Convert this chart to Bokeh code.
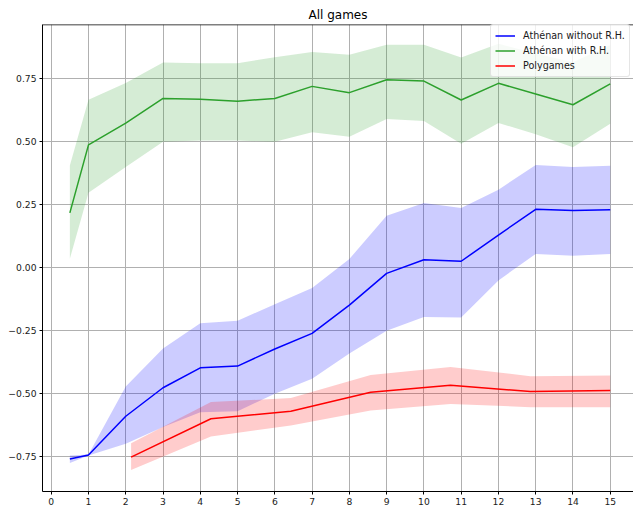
from bokeh.plotting import figure
from bokeh.models import Range1d, FixedTicker, Legend, LegendItem, Span
from bokeh.embed import file_html
from bokeh.resources import INLINE

# ---- data ----
x_steps = [0.5, 1, 2, 3, 4, 5, 6, 7, 8, 9, 10, 11, 12, 13, 14, 15]

blue_mean = [-0.759, -0.743, -0.589, -0.476, -0.397, -0.390, -0.322, -0.260,
             -0.148, -0.022, 0.032, 0.026, 0.130, 0.232, 0.227, 0.230]
blue_low = [-0.775, -0.745, -0.698, -0.632, -0.573, -0.569, -0.500, -0.440,
            -0.340, -0.250, -0.195, -0.197, -0.050, 0.055, 0.048, 0.055]
blue_high = [-0.745, -0.741, -0.471, -0.320, -0.220, -0.210, -0.145, -0.080,
             0.035, 0.207, 0.257, 0.237, 0.310, 0.408, 0.400, 0.405]

green_mean = [0.218, 0.488, 0.574, 0.672, 0.669, 0.661, 0.672, 0.720,
              0.695, 0.746, 0.741, 0.666, 0.732, 0.690, 0.647, 0.730]
green_low = [0.036, 0.298, 0.400, 0.500, 0.505, 0.505, 0.500, 0.538,
             0.520, 0.590, 0.583, 0.492, 0.575, 0.530, 0.478, 0.572]
green_high = [0.406, 0.667, 0.733, 0.815, 0.812, 0.812, 0.836, 0.856,
              0.845, 0.885, 0.885, 0.835, 0.889, 0.850, 0.816, 0.884]

red_x = [2.143, 4.286, 6.429, 8.571, 10.714, 12.857, 15.0]
red_mean = [-0.751, -0.599, -0.569, -0.494, -0.466, -0.491, -0.487]
red_low = [-0.802, -0.669, -0.626, -0.566, -0.540, -0.553, -0.553]
red_high = [-0.696, -0.533, -0.517, -0.425, -0.394, -0.430, -0.427]

x_ticks = list(range(0, 16))
y_ticks = [-0.75, -0.5, -0.25, 0.0, 0.25, 0.5, 0.75]
y_tick_labels = ["\u22120.75", "\u22120.50", "\u22120.25", "0.00", "0.25", "0.50", "0.75"]

series_names = ["Ath\u00e9nan without R.H.", "Ath\u00e9nan with R.H.", "Polygames"]
title_text = "All games"

FONT = "DejaVu Sans"
C_BLUE, C_GREEN, C_RED = "#0000ff", "#2ca02c", "#ff0000"

Y0, Y1 = -0.8877, 0.9655
p = figure(width=633, height=508,
           x_range=Range1d(-0.234, 15.624), y_range=Range1d(Y0, Y1),
           output_backend="svg", toolbar_location=None,
           min_border_left=42, min_border_top=24, min_border_bottom=17,
           min_border_right=0, title=title_text)
p.outline_line_color = None
p.background_fill_color = "white"

p.title.text_font = FONT
p.title.text_font_size = "12px"
p.title.text_font_style = "normal"
p.title.text_color = "black"
p.title.align = "center"
p.title.offset = 2
p.title.standoff = 6
p.title.text_line_height = 1.0

for ax in (p.xaxis[0], p.yaxis[0]):
    ax.axis_line_color = "black"
    ax.axis_line_width = 1
    ax.major_tick_line_color = "black"
    ax.major_tick_in = 0
    ax.major_tick_out = 3
    ax.minor_tick_line_color = None
    ax.major_label_text_font = FONT
    ax.major_label_text_font_size = "9.2px"
    ax.major_label_text_color = "#1a1a1a"
    ax.major_label_standoff = 3

p.xaxis.ticker = FixedTicker(ticks=x_ticks)
p.yaxis.ticker = FixedTicker(ticks=y_ticks)
p.yaxis.major_label_overrides = {t: l for t, l in zip(y_ticks, y_tick_labels)}

p.grid.grid_line_color = "#b0b0b0"
p.grid.grid_line_width = 1
p.xgrid.ticker = FixedTicker(ticks=x_ticks)
p.ygrid.ticker = FixedTicker(ticks=y_ticks)

# top spine
p.add_layout(Span(location=Y1, dimension="width", line_color="black", line_width=1.5))

# bands and lines
p.varea(x=x_steps, y1=blue_low, y2=blue_high, fill_color=C_BLUE, fill_alpha=0.2)
r_blue = p.line(x_steps, blue_mean, line_color=C_BLUE, line_width=1.5)
p.varea(x=x_steps, y1=green_low, y2=green_high, fill_color=C_GREEN, fill_alpha=0.2)
r_green = p.line(x_steps, green_mean, line_color=C_GREEN, line_width=1.5)
p.varea(x=red_x, y1=red_low, y2=red_high, fill_color=C_RED, fill_alpha=0.2)
r_red = p.line(red_x, red_mean, line_color=C_RED, line_width=1.5)

legend = Legend(items=[LegendItem(label=series_names[0], renderers=[r_blue]),
                       LegendItem(label=series_names[1], renderers=[r_green]),
                       LegendItem(label=series_names[2], renderers=[r_red])],
                location=(448, 414))
legend.label_text_font = FONT
legend.label_text_font_size = "9.6px"
legend.label_text_color = "#1a1a1a"
legend.glyph_width = 20
legend.glyph_height = 13
legend.label_height = 13
legend.label_standoff = 8
legend.spacing = 2
legend.padding = 4
legend.margin = 0
legend.border_line_color = "#cccccc"
legend.border_line_width = 1
legend.border_radius = 3
legend.background_fill_color = "white"
legend.background_fill_alpha = 0.8
p.add_layout(legend)

open("out.html", "w").write(file_html(p, INLINE))
